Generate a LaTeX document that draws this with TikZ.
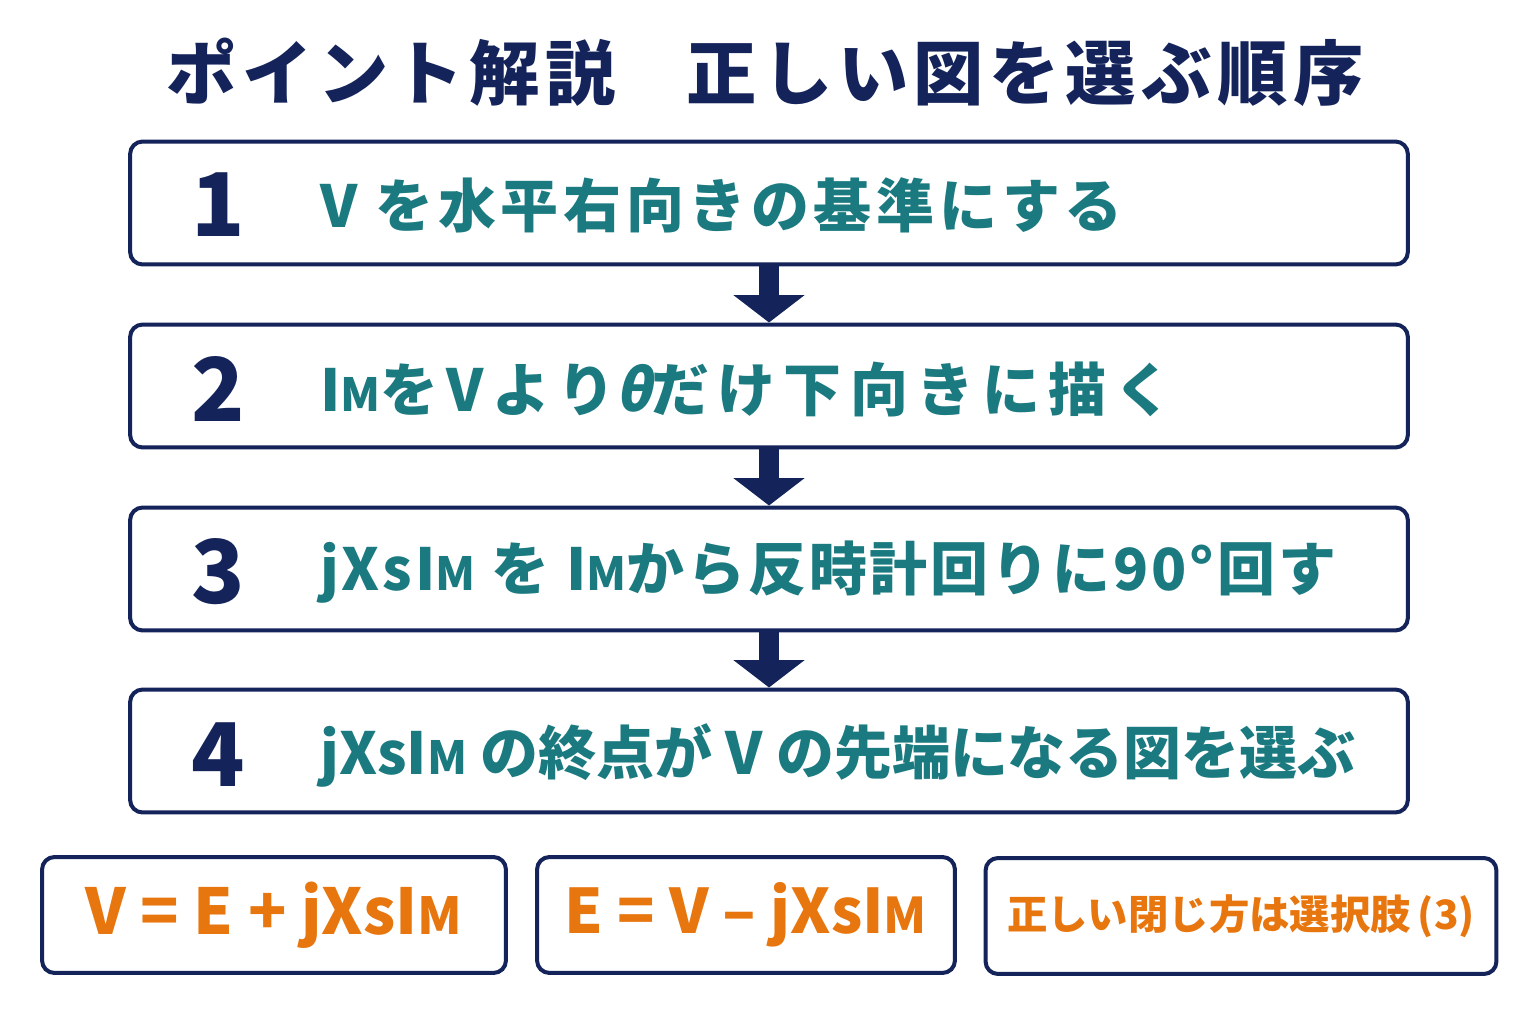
\documentclass[tikz,border=0pt]{standalone}
\usepackage{fontspec}
\setmainfont{Noto Sans CJK JP}
\usetikzlibrary{arrows.meta}
\definecolor{navy}{HTML}{14235A}
\definecolor{stepteal}{HTML}{1A7A80}
\definecolor{answerorange}{HTML}{E8760F}
% small M of the current index
\newcommand\lowM[1]{{\fontsize{#1}{#1}\selectfont M}}
\begin{document}
\begin{tikzpicture}[x=0.02cm, y=-0.02cm,
  stepbox/.style={draw=navy, line width=0.08cm, rounded corners=0.25cm, fill=white, minimum width=25.56cm, minimum height=2.46cm},
  resultbox/.style={draw=navy, line width=0.08cm, rounded corners=0.25cm, fill=white, minimum height=2.32cm, text=answerorange, inner sep=2pt},
  stepnum/.style={text=navy, font=\bfseries\fontsize{50}{50}\selectfont},
  steptext/.style={anchor=west, text=stepteal, inner sep=0pt, font=\bfseries\fontsize{33}{33}\selectfont\addfontfeature{LetterSpace=#1}},
  next/.style={-{Triangle[width=1.4cm,length=0.55cm]}, navy, line width=0.4cm}]
\useasboundingbox (0,0) rectangle (1536,1024);
\node[text=navy, font=\bfseries\fontsize{40}{40}\selectfont\addfontfeature{LetterSpace=8}] (title) at (765,72) {ポイント解説\quad 正しい図を選ぶ順序};

\node[stepbox] (s1) at (769,203) {};
\node[stepbox] (s2) at (769,386) {};
\node[stepbox] (s3) at (769,569) {};
\node[stepbox] (s4) at (769,751) {};

\node[stepnum] (n1) at (218,205) {1};
\node[stepnum] (n2) at (218,389) {2};
\node[stepnum] (n3) at (218,572) {3};
\node[stepnum] (n4) at (218,755) {4};

\node[steptext=8] (t1) at (320,205) {V を水平右向きの基準にする};
\node[steptext=14] (t2) at (320,389) {I\lowM{26}をVより{\addfontfeature{FakeSlant=0.2}θ}だけ下向きに描く};
\node[steptext=5] (t3) at (320,572) {jXsI\lowM{26} を I\lowM{26}から反時計回りに90°回す};
\node[steptext=0] (t4) at (320,755) {jXsI\lowM{26} の終点が V の先端になる図を選ぶ};

\draw[next] (s1.south) -- (s2.north);
\draw[next] (s2.south) -- (s3.north);
\draw[next] (s3.south) -- (s4.north);

\node[resultbox, minimum width=9.28cm, font=\bfseries\fontsize{36}{36}\selectfont] (r1) at (274,915) {V = E + jXsI\lowM{29}};
\node[resultbox, minimum width=8.36cm, font=\bfseries\fontsize{35}{35}\selectfont] (r2) at (746,915) {E = V – jXsI\lowM{28}};
\node[resultbox, minimum width=10.22cm, font=\bfseries\fontsize{23}{23}\selectfont] (r3) at (1241,916) {正しい閉じ方は選択肢\,(3)};
\end{tikzpicture}
\end{document}
